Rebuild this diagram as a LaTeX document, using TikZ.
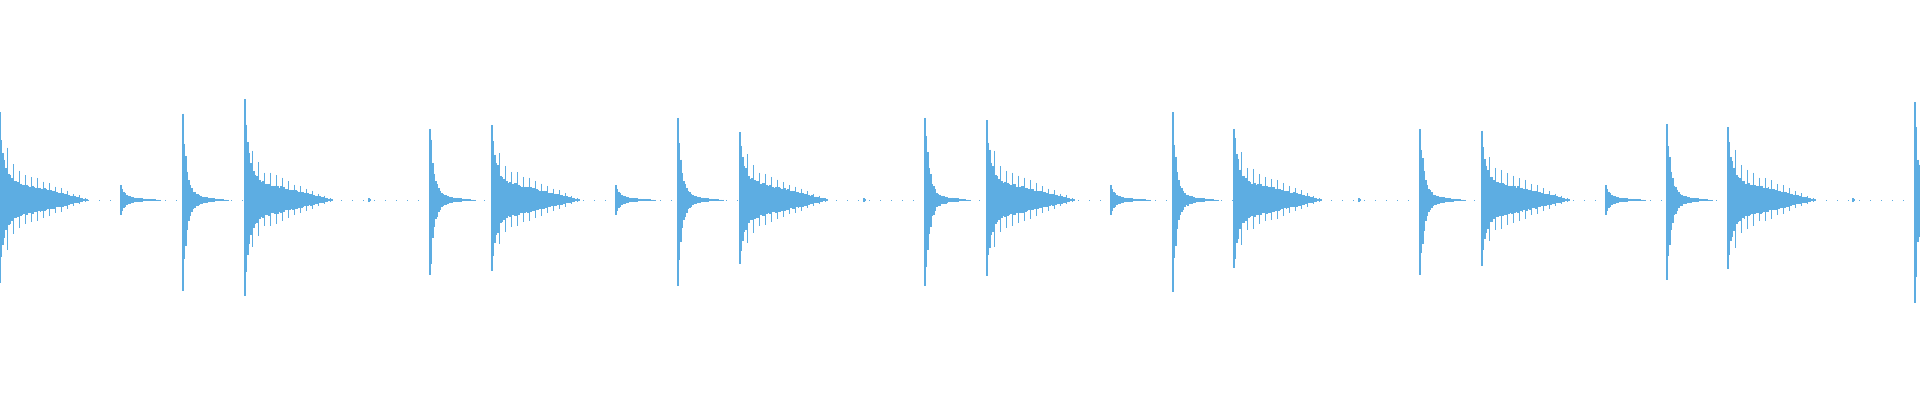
\documentclass[tikz,border=0pt]{standalone}
\usepackage{tikz}
\definecolor{wave}{HTML}{5DADE2}
\tikzset{sample/.style={draw=wave,line width=1.1pt,line cap=butt}}
% long ringing hit: x, peak
\newcommand\ringhit[2]{%
  \foreach \t in {0,1.5,...,88} {%
    \pgfmathsetmacro\a{(#2-22)*exp(-\t/4)+22*(1-\t/90)}%
    \pgfmathsetmacro\b{(mod(round(\t/1.5),4)==1 && \t>5) ? 1.7 : 1}%
    \pgfmathsetmacro\r{\a*\b*(0.9+0.15*rnd)}%
    \draw[sample] (#1+\t,200+\r) -- (#1+\t,200-0.95*\r);
  }}
% short sharp hit
\newcommand\sharphit[2]{%
  \foreach \t in {0,1.5,...,45} {%
    \pgfmathsetmacro\a{(#2-5)*exp(-\t/4)+5*(1-\t/46)}%
    \pgfmathsetmacro\r{\a*(0.85+0.25*rnd)}%
    \draw[sample] (#1+\t,200+\r) -- (#1+\t,200-1.05*\r);
  }}
% small burst
\newcommand\softhit[1]{%
  \foreach \t in {0,1.5,...,40} {%
    \pgfmathsetmacro\r{12*exp(-\t/4)+3*(1-\t/42)}%
    \draw[sample] (#1+\t,200+\r) -- (#1+\t,200-\r);
  }}
\newcommand\tickhit[1]{%
  \draw[sample] (#1,198) -- (#1,202);
  \draw[sample] (#1+1.5,199) -- (#1+1.5,201);}
\begin{document}
\begin{tikzpicture}[x=1pt,y=1pt]
\useasboundingbox (0,0) rectangle (1920,400);
\pgfmathsetseed{7}
% baseline
\draw[wave,line width=0.6pt,dash pattern=on 1pt off 10pt] (0,200) -- (1920,200);
% ringing hits
\foreach \x/\p in {0/85,245/100,492/80,740/72,987/80,1234/78,1728/75}
  {\ringhit{\x}{\p}}
\ringhit{1482}{70}
% sharp hits
\foreach \x/\p in {183/82,430/82,678/84,925/92,1173/80,1420/80,1667/84}
  {\sharphit{\x}{\p}}
\sharphit{1915}{95}
% soft hits and ticks
\foreach \x in {121,616,1111,1606} {\softhit{\x}}
\foreach \x in {369,864,1359,1853} {\tickhit{\x}}
\end{tikzpicture}
\end{document}
